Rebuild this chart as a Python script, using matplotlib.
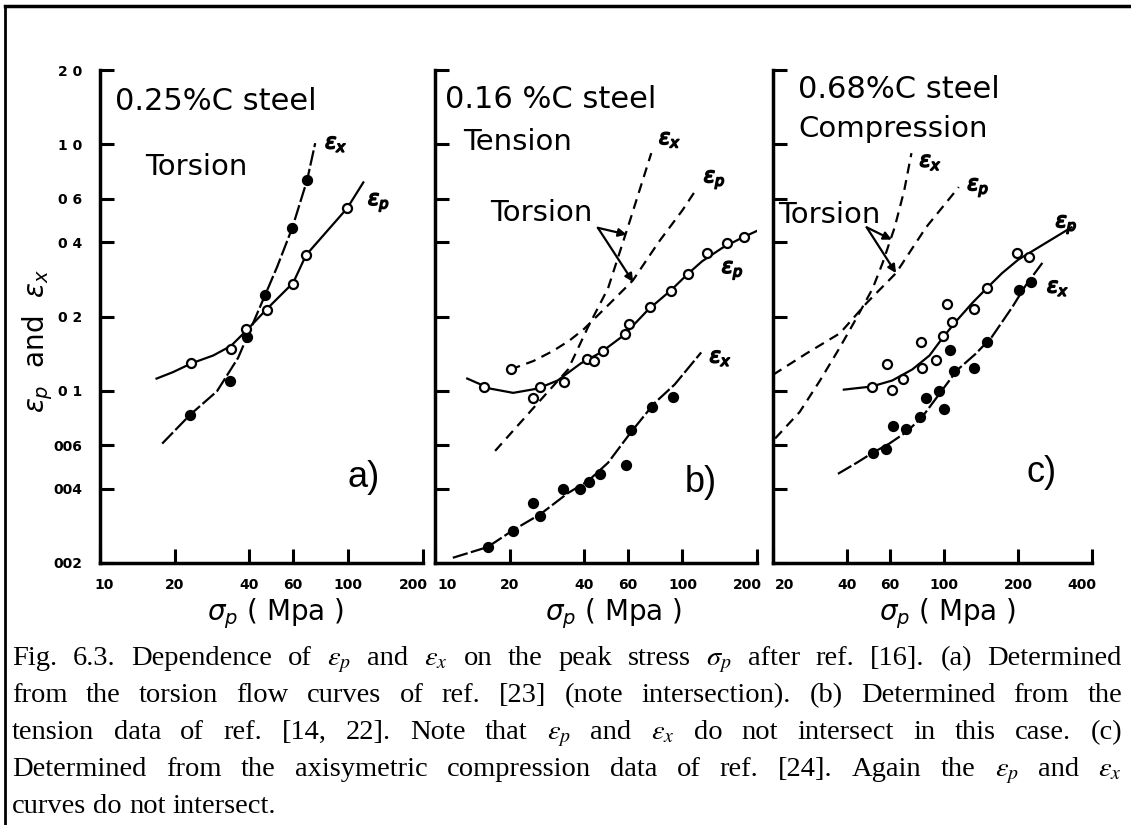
import matplotlib
matplotlib.use('Agg')
import matplotlib.pyplot as plt
import matplotlib.patheffects as pe
from matplotlib.lines import Line2D
from matplotlib.transforms import ScaledTranslation

plt.rcParams['mathtext.fontset'] = 'dejavusans'
plt.rcParams['font.family'] = 'DejaVu Sans'

# ─── Data ────────────────────────────────────────────────────────────
y_ticks = [2.0, 1.0, 0.6, 0.4, 0.2, 0.1, 0.06, 0.04, 0.02]
y_tick_labels = ['2 0', '1 0', '0 6', '0 4', '0 2', '0 1', '006', '004', '002']

# (a) 0.25%C steel, torsion
a_xticks = [10, 20, 40, 60, 100, 200]
a_ex_pts_x = [23.1, 33.4, 39.1, 46.3, 59.5, 68.3]
a_ex_pts_y = [0.080, 0.109, 0.165, 0.245, 0.458, 0.716]
a_ep_pts_x = [23.3, 33.7, 38.8, 47.1, 60.0, 67.6, 99.0]
a_ep_pts_y = [0.129, 0.148, 0.178, 0.213, 0.271, 0.355, 0.55]
a_ex_curve_x = [17.8, 23.1, 29.6, 36.0, 39.1, 46.3, 51.7, 59.5, 68.3, 73.6]
a_ex_curve_y = [0.061, 0.080, 0.0995, 0.136, 0.165, 0.245, 0.318, 0.458, 0.716, 1.01]
a_ep_curve_x = [16.9, 19.7, 23.3, 28.6, 33.7, 38.8, 47.1, 60.0, 67.6, 99.0, 115]
a_ep_curve_y = [0.112, 0.119, 0.129, 0.139, 0.152, 0.175, 0.215, 0.274, 0.355, 0.55, 0.70]

# (b) 0.16%C steel, tension (solid) + torsion (dashed)
b_xticks = [10, 20, 40, 60, 100, 200]
b_ep_pts_x = [15.8, 24.8, 26.5, 33.2, 41.1, 43.9, 47.7, 58.6, 61.0, 74.0, 90.0, 105, 126, 151, 178]
b_ep_pts_y = [0.104, 0.093, 0.104, 0.108, 0.135, 0.132, 0.145, 0.170, 0.186, 0.219, 0.254, 0.297, 0.362, 0.398, 0.42]
b_ex_pts_x = [16.3, 20.7, 24.8, 26.5, 32.8, 38.5, 41.8, 46.3, 59.0, 61.9, 75.5, 91.9]
b_ex_pts_y = [0.0232, 0.027, 0.035, 0.031, 0.040, 0.040, 0.0426, 0.046, 0.050, 0.069, 0.086, 0.094]
b_ep_curve_x = [13.5, 16.7, 20.7, 26.0, 31.3, 38.8, 46.8, 58.0, 72.6, 90.0, 104.8, 120, 145, 172, 200]
b_ep_curve_y = [0.112, 0.102, 0.098, 0.102, 0.110, 0.129, 0.143, 0.168, 0.213, 0.256, 0.297, 0.335, 0.38, 0.415, 0.445]
b_ex_curve_x = [11.8, 16.3, 20.7, 26.7, 34.4, 41.5, 50.0, 62.0, 77.0, 93.0, 119]
b_ex_curve_y = [0.021, 0.0232, 0.0272, 0.0316, 0.0384, 0.043, 0.051, 0.068, 0.089, 0.106, 0.143]
b_tor_ep_x = [20.2, 25.0, 30.0, 35.0, 40.0, 50.0, 63.0, 80.0, 100.0, 113.0]
b_tor_ep_y = [0.122, 0.132, 0.145, 0.160, 0.178, 0.222, 0.28, 0.40, 0.54, 0.65]
b_tor_ex_x = [17.5, 26.0, 34.5, 41.5, 50.0, 60.9, 74.8]
b_tor_ex_y = [0.057, 0.089, 0.122, 0.181, 0.26, 0.479, 0.92]

# (c) 0.68%C steel, compression (solid) + torsion (dashed)
c_xticks = [20, 40, 60, 100, 200, 400]
c_ep_pts_x = [50.5, 58.1, 61.3, 68.0, 80.5, 81.0, 92.6, 98.9, 102.6, 107.5, 132, 148.6, 197.7, 222]
c_ep_pts_y = [0.104, 0.128, 0.101, 0.112, 0.157, 0.124, 0.133, 0.166, 0.225, 0.19, 0.214, 0.26, 0.362, 0.35]
c_ex_pts_x = [51, 58, 62, 69.6, 79.7, 84, 95, 99.3, 105.4, 109.8, 132, 149.9, 202, 225]
c_ex_pts_y = [0.056, 0.058, 0.072, 0.070, 0.078, 0.093, 0.100, 0.084, 0.146, 0.12, 0.124, 0.157, 0.256, 0.276]
c_ep_curve_x = [38.9, 50.5, 61.3, 74, 87, 98.9, 112.5, 130, 148.6, 172, 200, 330]
c_ep_curve_y = [0.101, 0.104, 0.110, 0.122, 0.139, 0.165, 0.193, 0.227, 0.26, 0.30, 0.34, 0.46]
c_ex_curve_x = [36.8, 43.9, 51, 59.6, 70, 81, 95.4, 112.5, 134, 156, 189, 215, 251]
c_ex_curve_y = [0.046, 0.051, 0.056, 0.061, 0.068, 0.078, 0.097, 0.121, 0.141, 0.165, 0.218, 0.268, 0.33]
c_tor_ep_x = [20, 27.5, 37.5, 48.2, 63.5, 84.2, 114.5]
c_tor_ep_y = [0.116, 0.142, 0.171, 0.227, 0.30, 0.46, 0.67]
c_tor_ex_x = [20.4, 25.7, 31.1, 37.5, 43.8, 51, 56, 62.7, 68.6, 73.4]
c_tor_ex_y = [0.064, 0.082, 0.110, 0.150, 0.197, 0.26, 0.33, 0.46, 0.65, 0.92]

caption_lines = [
    r'Fig. 6.3. Dependence of $\varepsilon_p$ and $\varepsilon_x$ on the peak stress $\sigma_p$ after ref. [16]. (a) Determined',
    r'from the torsion flow curves of ref. [23] (note intersection). (b) Determined from the',
    r'tension data of ref. [14, 22]. Note that $\varepsilon_p$ and $\varepsilon_x$ do not intersect in this case. (c)',
    r'Determined from the axisymetric compression data of ref. [24]. Again the $\varepsilon_p$ and $\varepsilon_x$',
    r'curves do not intersect.',
]

# ─── Figure ──────────────────────────────────────────────────────────
W, H = 1131, 825
fig = plt.figure(figsize=(W / 100, H / 100), dpi=100)


def fx(x):
    return x / W


def fy(y):
    return 1 - y / H


SOLID_BROKEN = (0, (7, 1.5))
DASHED = (0, (4.5, 3))
bold_fx = [pe.withStroke(linewidth=1.2, foreground='black')]


def shift(lbl, dx_px):
    lbl.set_transform(lbl.get_transform() +
                      ScaledTranslation(dx_px / 100, 0, fig.dpi_scale_trans))


def make_axes(left, right, xlim, xticks, ylabels, first_left):
    ax = fig.add_axes([fx(left), fy(563), (right - left) / W, 493 / H])
    ax.set_xscale('log')
    ax.set_yscale('log')
    ax.set_xlim(*xlim)
    ax.set_ylim(0.02, 2.0)
    for s in ['top', 'right']:
        ax.spines[s].set_visible(False)
    for s in ['left', 'bottom']:
        ax.spines[s].set_linewidth(2.5)
    ax.set_xticks(xticks, [str(t) for t in xticks], fontweight='bold', fontsize=10)
    ax.set_xticks([], minor=True)
    if ylabels:
        ax.set_yticks(y_ticks, y_tick_labels, fontweight='bold', fontsize=10)
    else:
        ax.set_yticks(y_ticks, [''] * len(y_ticks))
    ax.set_yticks([], minor=True)
    ax.tick_params(axis='both', direction='in', length=10, width=2.2)
    ax.tick_params(axis='x', pad=11)
    ax.tick_params(axis='y', pad=13)
    ax.patch.set_alpha(0)
    labels = ax.get_xticklabels()
    if first_left:
        labels[0].set_horizontalalignment('left')
        shift(labels[0], 2)
    else:
        shift(labels[0], 4)
    shift(labels[-1], -10)
    return ax


def curve(ax, x, y, ls):
    ax.plot(x, y, color='k', lw=1.6, ls=ls, zorder=2)


def points(ax, x, y, filled):
    ax.plot(x, y, 'o', ms=6.5, mec='k', mew=1.6,
            mfc='k' if filled else 'white', zorder=3)


def eps_label(ax, x, y, sub):
    ax.text(x, y, r'$\epsilon_%s$' % sub, fontsize=15, ha='left', va='baseline',
            path_effects=bold_fx)


def arrow(ax, start, end):
    ax.annotate('', xy=end, xytext=start,
                arrowprops=dict(arrowstyle='-|>', color='k', lw=1.6,
                                mutation_scale=12, shrinkA=0, shrinkB=0))


# ─── (a) ─────────────────────────────────────────────────────────────
ax_a = make_axes(100, 423, (10, 200), a_xticks, True, False)
curve(ax_a, a_ex_curve_x, a_ex_curve_y, SOLID_BROKEN)
curve(ax_a, a_ep_curve_x, a_ep_curve_y, '-')
points(ax_a, a_ex_pts_x, a_ex_pts_y, True)
points(ax_a, a_ep_pts_x, a_ep_pts_y, False)
eps_label(ax_a, 80.7, 0.96, 'x')
eps_label(ax_a, 120, 0.566, 'p')
ax_a.text(11.5, 1.375, '0.25%C steel', fontsize=22, va='baseline')
ax_a.text(15.2, 0.75, 'Torsion', fontsize=21, va='baseline')
ax_a.text(0.765, 0.155, 'a)', transform=ax_a.transAxes, fontsize=26,
          family='Liberation Sans', va='baseline')

# ─── (b) ─────────────────────────────────────────────────────────────
ax_b = make_axes(435, 757, (10, 200), b_xticks, False, True)
curve(ax_b, b_ep_curve_x, b_ep_curve_y, '-')
curve(ax_b, b_ex_curve_x, b_ex_curve_y, SOLID_BROKEN)
curve(ax_b, b_tor_ep_x, b_tor_ep_y, DASHED)
curve(ax_b, b_tor_ex_x, b_tor_ex_y, DASHED)
points(ax_b, b_ex_pts_x, b_ex_pts_y, True)
points(ax_b, b_ep_pts_x, b_ep_pts_y, False)
points(ax_b, b_tor_ep_x[:1], b_tor_ep_y[:1], False)
eps_label(ax_b, 80.3, 1.0, 'x')
eps_label(ax_b, 121.8, 0.70, 'p')
eps_label(ax_b, 144, 0.30, 'p')
eps_label(ax_b, 128.6, 0.130, 'x')
ax_b.text(10.98, 1.40, '0.16 %C steel', fontsize=22, va='baseline')
ax_b.text(13.0, 0.95, 'Tension', fontsize=21, va='baseline')
ax_b.text(16.7, 0.49, 'Torsion', fontsize=21, va='baseline')
arrow(ax_b, (45.5, 0.458), (59.5, 0.43))
arrow(ax_b, (45.5, 0.458), (63.2, 0.276))
ax_b.text(0.775, 0.145, 'b)', transform=ax_b.transAxes, fontsize=26,
          family='Liberation Sans', va='baseline')

# ─── (c) ─────────────────────────────────────────────────────────────
ax_c = make_axes(773, 1092, (20, 400), c_xticks, False, True)
curve(ax_c, c_ep_curve_x, c_ep_curve_y, '-')
curve(ax_c, c_ex_curve_x, c_ex_curve_y, SOLID_BROKEN)
curve(ax_c, c_tor_ep_x, c_tor_ep_y, DASHED)
curve(ax_c, c_tor_ex_x, c_tor_ex_y, DASHED)
points(ax_c, c_ex_pts_x, c_ex_pts_y, True)
points(ax_c, c_ep_pts_x, c_ep_pts_y, False)
eps_label(ax_c, 79.2, 0.81, 'x')
eps_label(ax_c, 124, 0.65, 'p')
eps_label(ax_c, 284, 0.46, 'p')
eps_label(ax_c, 262, 0.25, 'x')
ax_c.text(25.3, 1.54, '0.68%C steel', fontsize=22, va='baseline')
ax_c.text(25.3, 1.07, 'Compression', fontsize=21, va='baseline')
ax_c.text(20.9, 0.48, 'Torsion', fontsize=21, va='baseline')
arrow(ax_c, (48.2, 0.46), (61, 0.41))
arrow(ax_c, (48.2, 0.46), (63.5, 0.30))
ax_c.text(0.795, 0.165, 'c)', transform=ax_c.transAxes, fontsize=26,
          family='Liberation Sans', va='baseline')

# ─── axis titles ─────────────────────────────────────────────────────
for xc in [275, 613, 947]:
    fig.text(fx(xc), fy(620), r'$\sigma_p$ ( Mpa )', fontsize=20,
             ha='center', va='baseline')
fig.text(fx(38), fy(341), r'$\epsilon_p$  and  $\epsilon_x$', fontsize=20,
         rotation=90, ha='center', va='center')

# ─── frame lines ─────────────────────────────────────────────────────
fig.add_artist(Line2D([fx(5), fx(5)], [fy(6), 0], transform=fig.transFigure,
                      color='k', lw=2))
fig.add_artist(Line2D([fx(5), 1], [fy(6), fy(6)], transform=fig.transFigure,
                      color='k', lw=2.5))

# ─── caption, justified word by word ─────────────────────────────────
renderer = fig.canvas.get_renderer()
cap_left, cap_right = 12, 1122
space_px = 7
for i, line in enumerate(caption_lines):
    y_base = 665 + i * 37
    words = line.split(' ')
    texts = [fig.text(0, fy(y_base), w, fontsize=20.5, family='Liberation Serif',
                      math_fontfamily='stix', ha='left', va='baseline')
             for w in words]
    widths = [t.get_window_extent(renderer).width for t in texts]
    if i < len(caption_lines) - 1 and len(words) > 1:
        gap = (cap_right - cap_left - sum(widths)) / (len(words) - 1)
    else:
        gap = space_px
    x = cap_left
    for t, w in zip(texts, widths):
        t.set_x(fx(x))
        x += w + gap

fig.savefig('out.png', dpi=100)
